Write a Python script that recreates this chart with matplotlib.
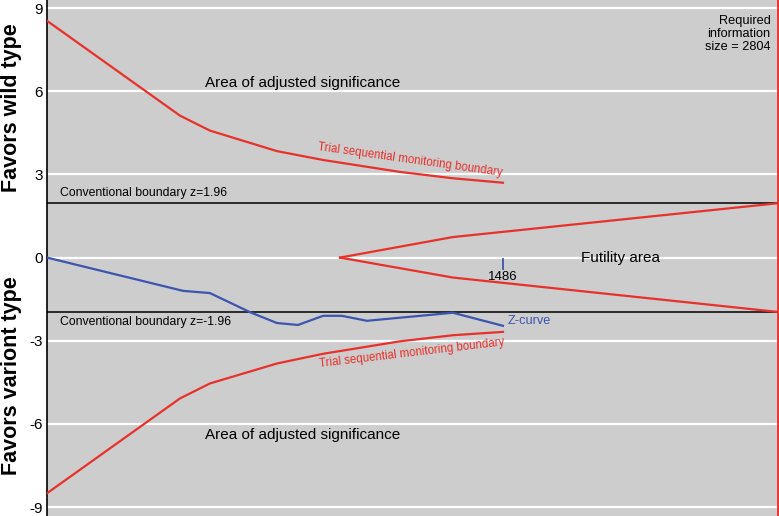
import numpy as np
import matplotlib.pyplot as plt

plt.rcParams['font.family'] = ['Liberation Sans', 'DejaVu Sans']

# information axis positions (patients) and z-values
ris = 2804
accrued = 1486

bound_x = [0, 510, 625, 882, 1059, 1354, 1557, 1749]
upper_z = [8.54, 5.12, 4.58, 3.84, 3.52, 3.09, 2.86, 2.70]
lower_z = [-8.50, -5.08, -4.54, -3.82, -3.47, -3.02, -2.80, -2.68]

fut_x = [1124, 1557, 2804]
fut_up = [0.0, 0.74, 1.96]
fut_lo = [0.0, -0.72, -1.96]

zcurve_x = [0, 522, 625, 779, 882, 963, 1059, 1131, 1227, 1557, 1749]
zcurve_z = [0.0, -1.20, -1.28, -1.97, -2.36, -2.43, -2.10, -2.10, -2.28, -1.99, -2.46]

yticks = [9, 6, 3, 0, -3, -6, -9]
conv = 1.96

red = '#e8312a'
blue = '#3b55b0'

fig = plt.figure(figsize=(7.79, 5.16), dpi=100)
ax = fig.add_axes([47 / 779, 0, 732 / 779, 1])
ax.set_facecolor('#cdcdcd')
ax.set_xlim(0, 2808)
ax.set_ylim(-9.32, 9.29)

for v in yticks:
    ax.axhline(v, color='white', lw=1.6, zorder=1)
ax.axhline(conv, color='black', lw=1.1, zorder=2)
ax.axhline(-conv, color='black', lw=1.1, zorder=2)

ax.plot(bound_x, upper_z, color=red, lw=1.6, zorder=3)
ax.plot(bound_x, lower_z, color=red, lw=1.6, zorder=3)
ax.plot(fut_x, fut_up, color=red, lw=1.6, zorder=3)
ax.plot(fut_x, fut_lo, color=red, lw=1.6, zorder=3)
ax.axvline(ris, color=red, lw=2, zorder=3)
ax.plot(zcurve_x, zcurve_z, color=blue, lw=1.6, zorder=4)

# accrued information marker
ax.plot([zcurve_x[-1], zcurve_x[-1]], [-0.05, -0.4], color=blue, lw=1.3, zorder=4)
ax.text(zcurve_x[-1], -0.5, str(accrued), ha='center', va='top', fontsize=9.5)

ax.text(980, 6.3, 'Area of adjusted significance', ha='center', va='center', fontsize=11)
ax.text(980, -6.4, 'Area of adjusted significance', ha='center', va='center', fontsize=11)
ax.text(2200, 0.0, 'Futility area', ha='center', va='center', fontsize=11)
ax.text(50, 2.1, 'Conventional boundary z=1.96', ha='left', va='bottom', fontsize=8.8)
ax.text(50, -2.1, 'Conventional boundary z=-1.96', ha='left', va='top', fontsize=8.8)
ax.text(1034, 3.78, 'Trial sequential monitoring boundary', color=red, fontsize=8.3,
        rotation=-8, ha='left', va='bottom', rotation_mode='anchor')
ax.text(1040, -3.63, 'Trial sequential monitoring boundary', color=red, fontsize=8.3,
        rotation=6.7, ha='left', va='top', rotation_mode='anchor')
ax.text(1768, -2.3, 'Z-curve', color=blue, fontsize=9.2, ha='left', va='center')
ax.text(2775, 8.75, 'Required\ninformation\nsize = %d' % ris, ha='right', va='top',
        fontsize=9.2, linespacing=1.1)

ax.set_yticks(yticks)
ax.set_yticklabels([str(v) for v in yticks], fontsize=11)
ax.tick_params(axis='y', length=0, pad=3)
ax.set_xticks([])
for s in ['top', 'right', 'bottom']:
    ax.spines[s].set_visible(False)
ax.spines['left'].set_color('black')
ax.spines['left'].set_linewidth(1.2)

fig.text(12 / 779, 1 - 108 / 516, 'Favors wild type', rotation=90, ha='center', va='center',
         fontsize=15.5, fontweight='bold')
fig.text(12 / 779, 1 - 376 / 516, 'Favors variont type', rotation=90, ha='center', va='center',
         fontsize=15.5, fontweight='bold')

fig.savefig('out.png', dpi=100)
